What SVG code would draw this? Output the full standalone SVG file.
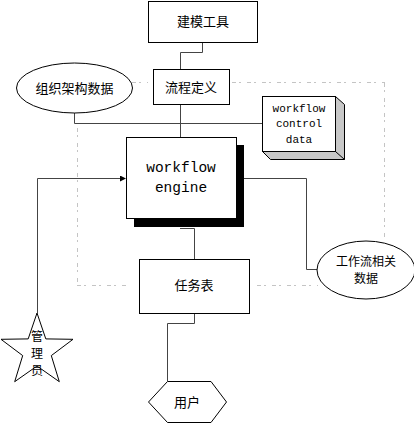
<svg xmlns="http://www.w3.org/2000/svg" width="414" height="424" viewBox="0 0 414 424">
<style>
.box{fill:#fff;stroke:#000;stroke-width:1}
.cn{fill:none;stroke:#444;stroke-width:1}
.dash{fill:none;stroke:#c4c4c4;stroke-width:1;stroke-dasharray:4,3,2,6}
.zh{font-family:"Noto Sans CJK SC","Noto Sans",sans-serif;font-size:13px;fill:#000;text-anchor:middle}
.zs{font-family:"Noto Sans CJK SC","Noto Sans",sans-serif;font-size:12px;fill:#000;text-anchor:middle}
.mono{font-family:"Liberation Mono",monospace;fill:#000;text-anchor:middle}
</style>
<defs>
<marker id="arr" markerWidth="6" markerHeight="6" refX="5" refY="3" orient="auto" markerUnits="userSpaceOnUse">
<path d="M0,0 L6,3 L0,6 z" fill="#000"/>
</marker>
</defs>
<g id="boundary">
<path class="dash" d="M87,82.5 H148 M232,82.5 H385"/>
<path class="dash" d="M384.5,83 V238"/>
<path class="dash" d="M77.5,128 V285"/>
<path class="dash" d="M77,285.5 H126 M257,285.5 H318"/>
</g>
<g id="connectors">
<path class="cn" d="M202.5,42 V52.5 H180.5 V69"/>
<path class="cn" d="M180.5,104 V137"/>
<path class="cn" d="M74.5,113 V123.5 H262"/>
<path class="cn" d="M37.5,313 V178.5 H125" marker-end="url(#arr)"/>
<path class="cn" d="M244,178.5 H306.5 V269.5 H318"/>
<path class="cn" d="M180,228.5 H194.5 V259"/>
<path class="cn" d="M194.5,313 V323.5 H167.5 V381"/>
</g>
<g id="modeling-tool">
<rect class="box" x="148.5" y="1.5" width="109" height="41"/>
<text class="zh" x="203" y="26">建模工具</text>
</g>
<g id="process-definition">
<rect class="box" x="153.5" y="69.5" width="76" height="35"/>
<text class="zh" x="191" y="91.5">流程定义</text>
</g>
<g id="org-data">
<ellipse class="box" cx="74.5" cy="88" rx="58" ry="25"/>
<text class="zh" x="74.5" y="92.5">组织架构数据</text>
</g>
<g id="workflow-control-data">
<polygon points="335.5,96.5 344.5,104.5 344.5,159.5 270.5,159.5 262.5,151.5 335.5,151.5" fill="#c8c8c8" stroke="#000"/>
<line x1="335.5" y1="151.5" x2="344.5" y2="159.5" stroke="#000"/>
<rect class="box" x="262.5" y="96.5" width="73" height="55"/>
<text class="mono" font-size="11" x="299" y="112">workflow</text>
<text class="mono" font-size="11" x="299" y="127">control</text>
<text class="mono" font-size="11" x="299" y="143">data</text>
</g>
<g id="workflow-engine">
<rect x="134" y="145" width="110" height="82" fill="#000"/>
<rect class="box" x="126.5" y="137.5" width="110" height="81"/>
<text class="mono" font-size="14.5" x="181" y="172">workflow</text>
<text class="mono" font-size="14.5" x="181" y="192">engine</text>
</g>
<g id="task-list">
<rect class="box" x="139.5" y="259.5" width="110" height="54"/>
<text class="zh" x="194" y="290">任务表</text>
</g>
<g id="workflow-data">
<ellipse class="box" cx="366" cy="270" rx="49" ry="29"/>
<text class="zs" x="366" y="266">工作流相关</text>
<text class="zs" x="366" y="283">数据</text>
</g>
<g id="admin">
<polygon class="box" points="37,313 45.8,338.9 73,339.3 51.3,355.6 59.3,381.7 37,366 14.7,381.7 22.7,355.6 1,339.3 28.2,338.9"/>
<text class="zs" x="37" y="341">管</text>
<text class="zs" x="37" y="358">理</text>
<text class="zs" x="37" y="375">员</text>
</g>
<g id="user">
<polygon class="box" points="167.5,381.5 211,381.5 226.5,402 211,422.5 167.5,422.5 148.5,402"/>
<text class="zh" x="187" y="406.5">用户</text>
</g>
</svg>
